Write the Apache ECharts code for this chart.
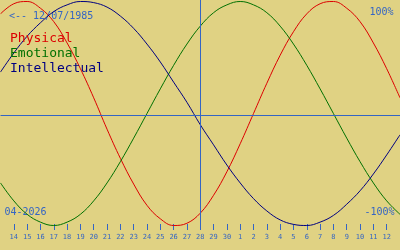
<!DOCTYPE html>
<html><head><meta charset="utf-8">
<script src="https://cdn.jsdelivr.net/npm/echarts@6/dist/echarts.min.js"></script>
<style>html,body{margin:0;padding:0;background:#E0D283;}#c{width:400px;height:250px;}</style>
</head><body><div id="c"></div>
<script>
const days = ['13','14','15','16','17','18','19','20','21','22','23','24','25','26','27','28','29','30','1','2','3','4','5','6','7','8','9','10','11','12','13'];
const physical = [89,98,100,94,82,63,40,14,-14,-40,-63,-82,-94,-100,-98,-89,-73,-52,-27,0,27,52,73,89,98,100,94,82,63,40,14];
const emotional = [-62,-78,-90,-97,-100,-97,-90,-78,-62,-43,-22,0,22,43,62,78,90,97,100,97,90,78,62,43,22,0,-22,-43,-62,-78,-90];
const intellectual = [37,54,69,81,91,97,100,99,95,87,76,62,46,28,10,-10,-28,-46,-62,-76,-87,-95,-99,-100,-97,-91,-81,-69,-54,-37,-19];
const seriesNames = ['Physical','Emotional','Intellectual'];
const birthLabel = '<-- 12/07/1985';
const monthLabel = '04-2026';
const topLabel = '100%';
const bottomLabel = '-100%';
const todayCategory = '28';

const BLUE = '#3465c4';
const FONT = 'DejaVu Sans Mono';
const colors = ['#dc0000','#007000','#000080'];
const chart = echarts.init(document.getElementById('c'), null, {renderer:'canvas'});
chart.setOption({
  animation:false,
  backgroundColor:'#E0D283',
  grid:{left:0.5,right:-0.5,top:0,bottom:20,containLabel:false},
  legend:{
    orient:'vertical',left:5,top:31,padding:0,itemWidth:0,itemHeight:0,itemGap:0,
    icon:'rect',selectedMode:false,
    textStyle:{fontFamily:FONT,fontSize:13,lineHeight:15},
    data:seriesNames.map((n,i)=>({name:n,textStyle:{color:colors[i]}}))
  },
  xAxis:{
    type:'category',data:days,boundaryGap:false,
    axisLine:{show:false,onZero:false},
    axisTick:{show:true,inside:true,length:6,interval:(i)=>i>0&&i<days.length-1,lineStyle:{color:BLUE,width:1}},
    axisLabel:{interval:(i)=>i>0&&i<days.length-1,margin:4,fontFamily:FONT,fontSize:7,color:BLUE},
    splitLine:{show:false}
  },
  yAxis:{type:'value',min:-104.02,max:101.34,show:false,splitLine:{show:false}},
  series:[
    {name:seriesNames[0],type:'line',data:physical,smooth:0.4,showSymbol:false,lineStyle:{width:1,color:colors[0]},itemStyle:{color:colors[0]},z:3,
     markLine:{silent:true,symbol:'none',label:{show:false},animation:false,
       lineStyle:{color:BLUE,width:1,type:'solid'},
       data:[{xAxis:todayCategory},{yAxis:-1.79}]}},
    {name:seriesNames[1],type:'line',data:emotional,smooth:0.4,showSymbol:false,lineStyle:{width:1,color:colors[1]},itemStyle:{color:colors[1]},z:3},
    {name:seriesNames[2],type:'line',data:intellectual,smooth:0.4,showSymbol:false,lineStyle:{width:1,color:colors[2]},itemStyle:{color:colors[2]},z:3}
  ],
  graphic:[
    {type:'text',x:9,y:16.5,style:{text:birthLabel,font:'10px '+FONT,fill:BLUE,align:'left',verticalAlign:'middle'}},
    {type:'text',x:393.5,y:12.5,style:{text:topLabel,font:'10px '+FONT,fill:BLUE,align:'right',verticalAlign:'middle'}},
    {type:'text',x:4.5,y:212.2,style:{text:monthLabel,font:'10px '+FONT,fill:BLUE,align:'left',verticalAlign:'middle'}},
    {type:'text',x:394.5,y:212.5,style:{text:bottomLabel,font:'10px '+FONT,fill:BLUE,align:'right',verticalAlign:'middle'}}
  ]
});
</script></body></html>
